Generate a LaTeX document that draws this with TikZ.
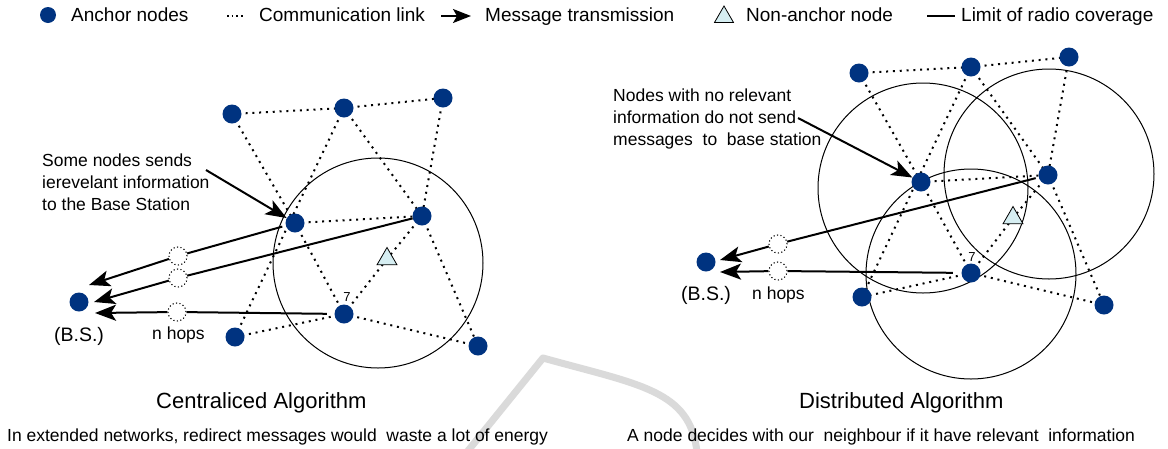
\documentclass[tikz,border=0pt]{standalone}
\usepackage{fontspec}
\setmainfont{Liberation Sans}
\usetikzlibrary{arrows.meta,shapes.geometric}
\pgfdeclarelayer{bg}
\pgfsetlayers{bg,main}
\definecolor{anchorblue}{RGB}{0,51,128}
\definecolor{tricyan}{RGB}{214,238,242}
\definecolor{markgrey}{RGB}{218,218,218}

\begin{document}
\begin{tikzpicture}[x=1pt,y=-1pt,
  anchornode/.style={circle,fill=anchorblue,minimum size=19pt,inner sep=0pt},
  targetnode/.style={regular polygon,regular polygon sides=3,draw=black,line width=0.8pt,
    fill=tricyan,minimum size=23pt,inner sep=0pt},
  hopnode/.style={circle,draw=black,line width=1.1pt,dash pattern=on 1.1pt off 2.4pt,
    fill=white,minimum size=18pt,inner sep=0pt},
  link/.style={line width=2pt,dash pattern=on 2pt off 4.8pt},
  coverage/.style={line width=1pt},
  wire/.style={line width=2pt},
  msg/.style={line width=2pt,-{Stealth[length=21pt,width=16pt,inset=5pt]}},
  lbl/.style={inner sep=0pt,anchor=base west},
  legendfont/.style={font=\fontsize{19}{22}\selectfont},
  notefont/.style={font=\fontsize{17.5}{22}\selectfont},
  titlefont/.style={font=\fontsize{22}{26}\selectfont},
  captionfont/.style={font=\fontsize{17.5}{22}\selectfont},
 ]
\useasboundingbox (0,0) rectangle (1168,448);

% ---------------- legend ----------------
\node[anchornode,minimum size=16pt] (lgdot) at (48,15) {};
\node[lbl,legendfont] (lgt1) at (71,21) {Anchor nodes};
\coordinate (lgl1) at (227,16);
\coordinate (lgl2) at (245,16);
\draw[line width=1.5pt,dash pattern=on 1.5pt off 3.2pt] (lgl1) -- (lgl2);
\node[lbl,legendfont] (lgt2) at (259,21) {Communication link};
\coordinate (lga1) at (441,16);
\coordinate (lga2) at (471,16);
\draw[line width=1.8pt,-{Stealth[length=18pt,width=14pt,inset=4pt]}] (lga1) -- (lga2);
\node[lbl,legendfont] (lgt3) at (485,21) {Message transmission};
\node[targetnode,minimum size=22pt] (lgtri) at (724,17) {};
\node[lbl,legendfont] (lgt4) at (746,21) {Non-anchor node};
\coordinate (lgc1) at (927,16);
\coordinate (lgc2) at (955,16);
\draw[line width=1.3pt] (lgc1) -- (lgc2);
\node[lbl,legendfont] (lgt5) at (961,21) {Limit of radio coverage};

% ---------------- centralised network ----------------
\node[anchornode] (a1) at (232,114) {};
\node[anchornode] (a2) at (344,108) {};
\node[anchornode] (a3) at (443,98) {};
\node[anchornode] (a4) at (295,223) {};
\node[anchornode] (a5) at (422,216) {};
\node[anchornode] (a6) at (344,314) {};
\node[anchornode] (a7) at (235,337) {};
\node[anchornode] (a8) at (478,346) {};
\node[targetnode] (ta) at (387,259) {};
\node[anchornode] (bsa) at (79,302) {};
\node[inner sep=0pt,font=\fontsize{13}{15}\selectfont] (sa) at (347,297) {7};

\node[hopnode] (ha1) at (178,256) {};
\node[hopnode] (ha2) at (178,278) {};
\node[hopnode] (ha3) at (177,312) {};

\node[inner sep=0pt,font=\fontsize{19.5}{22}\selectfont] (bsla) at (79,336) {(B.S.)};
\node[lbl,notefont] (hopsa) at (152,339) {n hops};

\node[lbl,notefont] (noa1) at (42,166) {Some nodes sends};
\node[lbl,notefont] (noa2) at (42,188) {ierevelant information};
\node[lbl,notefont] (noa3) at (42,210) {to the Base Station};
\coordinate (nsa) at (206,170);
\draw[msg] (nsa) -- (a4);

\coordinate (ea1) at (89,285);
\coordinate (ea2) at (94,302);
\coordinate (ea3) at (95,313);
\draw[wire,shorten <=3.5pt] (a4) -- (ha1);
\draw[msg] (ha1) -- (ea1);
\draw[wire] (a5) -- (ha2);
\draw[msg] (ha2) -- (ea2);
\draw[wire,shorten <=7.5pt] (a6) -- (ha3);
\draw[msg] (ha3) -- (ea3);

\node[lbl,titlefont] (tia) at (156,408) {Centraliced Algorithm};
\node[lbl,captionfont] (caa) at (7,441) {In extended networks, redirect messages would\ \ waste a lot of energy};

% ---------------- distributed network ----------------
\node[anchornode] (b1) at (859,73) {};
\node[anchornode] (b2) at (971,67) {};
\node[anchornode] (b3) at (1069,57) {};
\node[anchornode] (b4) at (921,182) {};
\node[anchornode] (b5) at (1048,175) {};
\node[anchornode] (b6) at (971,273) {};
\node[anchornode] (b7) at (862,297) {};
\node[anchornode] (b8) at (1104,305) {};
\node[targetnode] (tb) at (1013,218) {};
\node[anchornode] (bsb) at (706,262) {};
\node[inner sep=0pt,font=\fontsize{13}{15}\selectfont] (sb) at (972,257) {7};

\node[hopnode] (hb1) at (778,244) {};
\node[hopnode] (hb2) at (778,271) {};

\node[inner sep=0pt,font=\fontsize{19.5}{22}\selectfont] (bslb) at (706,295) {(B.S.)};
\node[lbl,notefont] (hopsb) at (752,299) {n hops};

\node[lbl,notefont] (nob1) at (613,101) {Nodes with no relevant};
\node[lbl,notefont] (nob2) at (613,123) {information do not send};
\node[lbl,notefont] (nob3) at (613,145) {messages\ \ to\ \ base station};
\coordinate (nsb) at (798,118);
\draw[msg] (nsb) -- (b4);

\coordinate (eb1) at (720,260);
\coordinate (eb2) at (720,272);
\draw[wire,shorten <=3pt] (b5) -- (hb1);
\draw[msg] (hb1) -- (eb1);
\draw[wire,shorten <=8.5pt] (b6) -- (hb2);
\draw[msg] (hb2) -- (eb2);

\node[lbl,titlefont] (tib) at (799,408) {Distributed Algorithm};
\node[lbl,captionfont] (cab) at (627,441) {A node decides with our\ \ neighbour if it have relevant\ \ information};

% ---------------- links, coverage and backdrop ----------------
\begin{pgfonlayer}{bg}
  \fill[white] (0,0) rectangle (1168,448);
  \draw[markgrey,line width=7pt,line join=round]
    (467,452) -- (543,358) .. controls (640,385) and (690,390) .. (697,452);

  \draw[coverage] (378,263) circle[radius=105];
  \draw[coverage] (923,188) circle[radius=105];
  \draw[coverage] (1049,174) circle[radius=105];
  \draw[coverage] (971,274) circle[radius=105];

  \foreach \p in {a,b} {
    \draw[link] (\p1.center) -- (\p2.center);
    \draw[link] (\p2.center) -- (\p3.center);
    \draw[link] (\p1.center) -- (\p4.center);
    \draw[link] (\p2.center) -- (\p7.center);
    \draw[link] (\p2.center) -- (\p5.center);
    \draw[link] (\p3.center) -- (\p5.center);
    \draw[link] (\p4.center) -- (\p5.center);
    \draw[link] (\p4.center) -- (\p6.center);
    \draw[link] (\p5.center) -- (t\p.center);
    \draw[link] (t\p.center) -- (\p6.center);
    \draw[link] (\p5.center) -- (\p8.center);
    \draw[link] (\p6.center) -- (\p7.center);
    \draw[link] (\p6.center) -- (\p8.center);
  }
\end{pgfonlayer}
\end{tikzpicture}
\end{document}
